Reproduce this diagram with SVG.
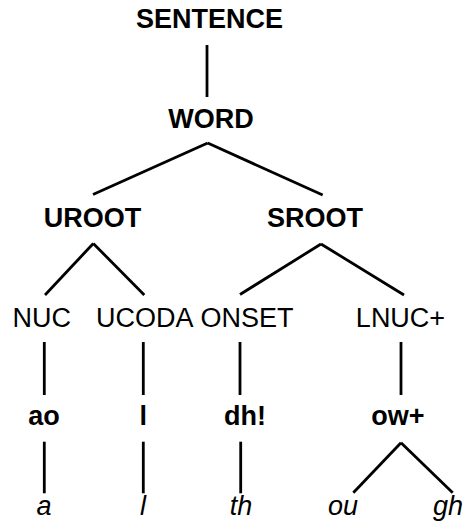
<svg xmlns="http://www.w3.org/2000/svg" width="468" height="529" viewBox="0 0 468 529">
  <style>
    text { font-family: "Liberation Sans", Arial, sans-serif; font-size: 27px; fill: #000; text-anchor: middle; }
    .b { font-weight: bold; }
    .i { font-style: italic; }
    .edges line { stroke: #000; stroke-width: 2.8; stroke-linecap: butt; }
  </style>
  <rect width="468" height="529" fill="#fff"/>

  <g class="edges" id="edges">
    <line x1="207" y1="45" x2="207" y2="97"/>
    <line x1="207.7" y1="143" x2="93" y2="194.5"/>
    <line x1="207.7" y1="143" x2="322.7" y2="195"/>
    <line x1="93.3" y1="243.5" x2="45" y2="295"/>
    <line x1="93.3" y1="243.5" x2="144.3" y2="295"/>
    <line x1="321" y1="244" x2="240" y2="294.5"/>
    <line x1="321" y1="244" x2="404" y2="295"/>
    <line x1="44.3" y1="342" x2="44.3" y2="395"/>
    <line x1="143.3" y1="342" x2="143.3" y2="395"/>
    <line x1="240" y1="342" x2="240" y2="395"/>
    <line x1="401" y1="342" x2="401" y2="395"/>
    <line x1="44.3" y1="441.7" x2="44.3" y2="493.3"/>
    <line x1="143.3" y1="441.7" x2="143.3" y2="493.3"/>
    <line x1="240.7" y1="441.7" x2="240.7" y2="493.3"/>
    <line x1="401" y1="442.7" x2="353.3" y2="492.7"/>
    <line x1="401" y1="442.7" x2="452.7" y2="492.7"/>
  </g>

  <g id="sentence"><text class="b" x="209.5" y="28">SENTENCE</text></g>
  <g id="word"><text class="b" x="211" y="128">WORD</text></g>
  <g id="uroot"><text class="b" x="92.5" y="226.5">UROOT</text></g>
  <g id="sroot"><text class="b" x="315" y="226.5">SROOT</text></g>
  <g id="nuc"><text x="41.7" y="326.5">NUC</text></g>
  <g id="ucoda"><text x="144.7" y="326.5">UCODA</text></g>
  <g id="onset"><text x="247" y="326.5">ONSET</text></g>
  <g id="lnuc"><text x="400.5" y="326.5">LNUC+</text></g>
  <g id="ao"><text class="b" x="44" y="425">ao</text></g>
  <g id="l-phone"><text class="b" x="143.3" y="425">l</text></g>
  <g id="dh"><text class="b" x="245" y="425">dh!</text></g>
  <g id="ow"><text class="b" x="398" y="425">ow+</text></g>
  <g id="a-letter"><text class="i" x="44" y="515">a</text></g>
  <g id="l-letter"><text class="i" x="143" y="515">l</text></g>
  <g id="th-letters"><text class="i" x="241" y="515">th</text></g>
  <g id="ou-letters"><text class="i" x="343" y="515">ou</text></g>
  <g id="gh-letters"><text class="i" x="448" y="515">gh</text></g>
</svg>
